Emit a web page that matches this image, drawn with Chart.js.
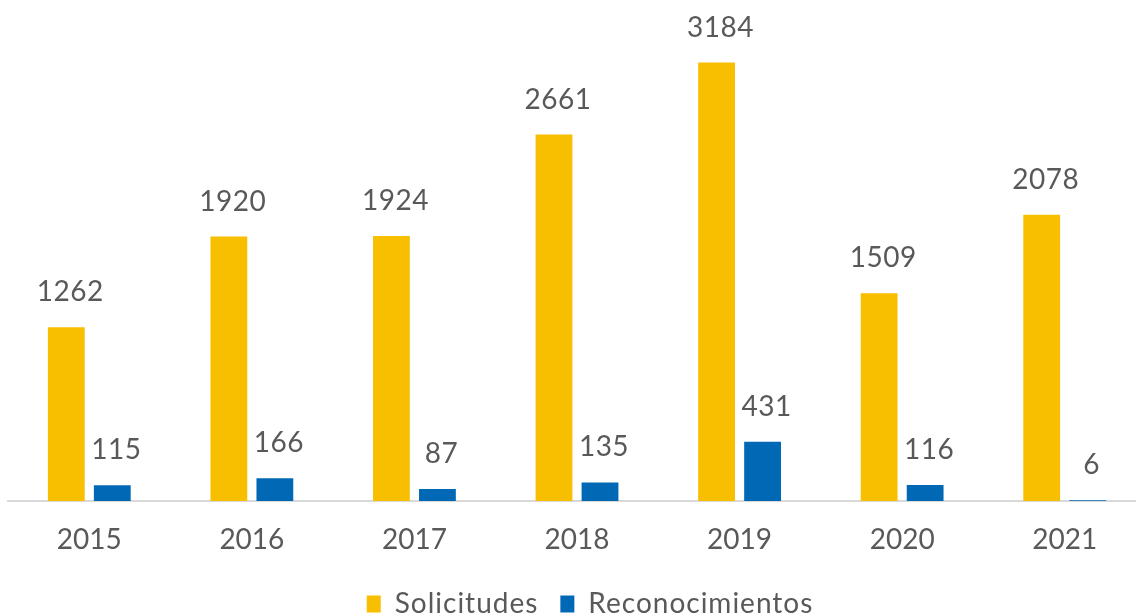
<!DOCTYPE html>
<html>
<head>
<meta charset="utf-8">
<script src="https://cdn.jsdelivr.net/npm/chart.js@4"></script>
<style>
  html, body { margin: 0; padding: 0; background: #fff; overflow: hidden; }
</style>
</head>
<body>
<canvas id="myChart" width="1146" height="616"></canvas>
<script>
//Datos del grafico
var anios = ['2015', '2016', '2017', '2018', '2019', '2020', '2021'];
var solicitudes = [1262, 1920, 1924, 2661, 3184, 1509, 2078];
var reconocimientos = [115, 166, 87, 135, 431, 116, 6];

var colorTexto = '#595959';

//Plugin para poner los valores encima de cada barra
var etiquetas = {
      id: 'etiquetas',
      afterDatasetsDraw: function (chart) {
            var ctx = chart.ctx;
            ctx.save();
            ctx.font = '28px Lato';
            ctx.letterSpacing = '0.5px';
            ctx.fillStyle = colorTexto;
            ctx.textAlign = 'center';
            ctx.textBaseline = 'alphabetic';
            chart.data.datasets.forEach(function (ds, i) {
                  chart.getDatasetMeta(i).data.forEach(function (bar, j) {
                        ctx.fillText(ds.data[j], bar.x + 4, bar.y - 26);
                  });
            });
            ctx.restore();
      }
};

//Espaciado de letras para los ejes y la leyenda
function conEspaciado(obj, espacio) {
      var original = obj.draw;
      obj.draw = function () {
            var c = this.ctx;
            c.save();
            c.letterSpacing = espacio;
            original.apply(this, arguments);
            c.restore();
      };
}

const ctx = document.getElementById('myChart').getContext('2d');
let myChart = new Chart(ctx, {
      type: 'bar',
      data: {
            labels: anios,
            datasets: [{
                  label: 'Solicitudes',
                  data: solicitudes,
                  backgroundColor: '#F8BE00',
                  barPercentage: 0.8,
                  categoryPercentage: 0.566
            },
            {
                  label: 'Reconocimientos',
                  data: reconocimientos,
                  backgroundColor: '#0068B5',
                  barPercentage: 0.8,
                  categoryPercentage: 0.566
            }]
      },
      options: {
            responsive: false,
            animation: false,
            layout: {
                  padding: { top: 19, left: 8, right: 0, bottom: -12 }
            },
            scales: {
                  x: {
                        grid: { display: false, drawTicks: false },
                        border: { display: true, color: '#D9D9D9', width: 2 },
                        ticks: {
                              color: colorTexto,
                              font: { family: 'Lato', size: 28 },
                              padding: 22
                        },
                        afterFit: function (scale) {
                              scale.height = 67;
                        }
                  },
                  y: {
                        display: false,
                        min: 0,
                        max: 3500
                  }
            },
            plugins: {
                  legend: {
                        position: 'bottom',
                        labels: {
                              color: colorTexto,
                              font: { family: 'Lato', size: 28 },
                              boxWidth: 14,
                              boxHeight: 17,
                              padding: 22
                        }
                  },
                  tooltip: { enabled: false }
            }
      },
      plugins: [etiquetas]
});

conEspaciado(myChart.scales.x, '3px');
conEspaciado(myChart.legend, '1px');
myChart.draw();
</script>
</body>
</html>
